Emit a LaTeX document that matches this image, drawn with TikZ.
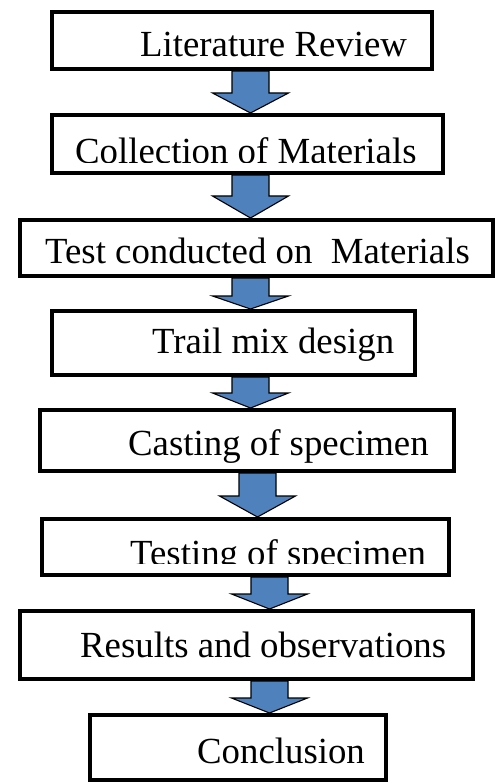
\documentclass[tikz,border=0pt]{standalone}
\usepackage{fontspec}
\setmainfont{Liberation Serif}
\usetikzlibrary{calc}
\definecolor{arrowblue}{RGB}{79,129,189}
\tikzset{
  box/.style={draw=black, fill=white, line width=4pt, rectangle, inner sep=0pt, outer sep=2pt},
  label/.style={anchor=base west, inner sep=0pt, font=\fontsize{36.8}{40}\selectfont},
  barrow/.style={draw=black, fill=arrowblue, line width=1.1pt, line join=miter}
}
\newcommand\blockarrow[4]{%
  \draw[barrow] let \p1=(#1 |- #2.south), \p2=(#1 |- #3.north) in
    (\x1-18.5pt,\y1) -- (\x1+18.5pt,\y1) -- (\x1+18.5pt,\y2+#4pt) -- (\x1+38pt,\y2+#4pt)
    -- (\x1,\y2) -- (\x1-38pt,\y2+#4pt) -- (\x1-18.5pt,\y2+#4pt) -- cycle;}
\begin{document}
\begin{tikzpicture}[x=1pt,y=-1pt]
\useasboundingbox (0,0) rectangle (497,783);
% axes of the arrows
\coordinate (ax1) at (250.5,0);
\coordinate (ax5) at (257.5,0);
\coordinate (ax6) at (269.5,0);
% boxes (positions only, drawn later)
\path
  node[box, draw=none, fill=none, minimum width=380pt, minimum height=57pt] (b1) at (242,40.5) {}
  node[box, draw=none, fill=none, minimum width=391pt, minimum height=58pt] (b2) at (247.5,144) {}
  node[box, draw=none, fill=none, minimum width=473pt, minimum height=56pt] (b3) at (256.5,248) {}
  node[box, draw=none, fill=none, minimum width=363pt, minimum height=64pt] (b4) at (233.5,343) {}
  node[box, draw=none, fill=none, minimum width=414pt, minimum height=61pt] (b5) at (247,440.5) {}
  node[box, draw=none, fill=none, minimum width=407pt, minimum height=56pt] (b6) at (245.5,547) {}
  node[box, draw=none, fill=none, minimum width=453pt, minimum height=68pt] (b7) at (246.5,645) {}
  node[box, draw=none, fill=none, minimum width=296pt, minimum height=65pt] (b8) at (238,747.5) {};
% arrows
\blockarrow{ax1}{b1}{b2}{20}
\blockarrow{ax1}{b2}{b3}{22}
\blockarrow{ax1}{b3}{b4}{13}
\blockarrow{ax1}{b4}{b5}{15}
\blockarrow{ax5}{b5}{b6}{21}
\blockarrow{ax6}{b6}{b7}{15}
\blockarrow{ax6}{b7}{b8}{15}
% boxes drawn
\foreach \b in {b1,b2,b3,b4,b5,b6,b7,b8}{
  \draw[line width=4pt, fill=white] (\b.south west) ++(2pt,2pt) rectangle ($(\b.north east)+(-2pt,-2pt)$);
}
% texts
\node[label] (t1) at (140,57) {Literature Review};
\begin{scope}
  \clip (0,0) rectangle (497,162.5);
  \node[label] (t2) at (75,163.5) {Collection of Materials};
\end{scope}
\node[label] (t3) at (45,264) {Test conducted on\ \ Materials};
\node[label] (t4) at (152,353) {Trail mix design};
\node[label] (t5) at (128,455) {Casting of specimen};
\begin{scope}
  \clip (0,520) rectangle (497,563.5);
  \node[label] (t6) at (130,565.5) {Testing of specimen};
\end{scope}
\node[label] (t7) at (80,657) {Results and observations};
\node[label] (t8) at (197,763) {Conclusion};
\end{tikzpicture}
\end{document}
